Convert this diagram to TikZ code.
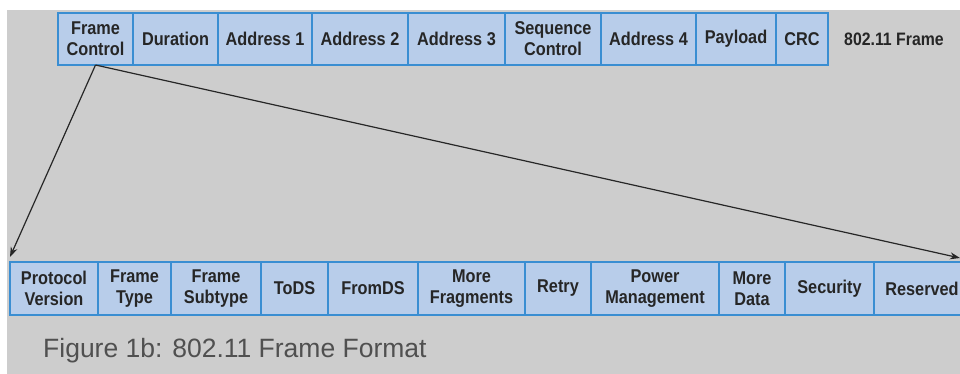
\documentclass[tikz,border=0pt]{standalone}
\usepackage{fontspec}
\setmainfont{Liberation Sans}
\newfontfamily\narrowfont{Liberation Sans}[FakeStretch=0.88]
\usetikzlibrary{positioning}
\usetikzlibrary{arrows.meta}
\definecolor{panelgray}{HTML}{CDCDCD}
\definecolor{fieldfill}{HTML}{B8CDEA}
\definecolor{fieldline}{HTML}{3A8ED2}
\definecolor{captiongray}{HTML}{505050}
\tikzset{	node distance=0pt,
	field/.style={
		draw=fieldline,
		fill=fieldfill,
		line width=2pt,
		outer sep=0pt,
		inner sep=0pt,
		minimum height=52pt,
		align=center,
		text=black!85,
		font=\narrowfont\bfseries\fontsize{18.5}{21}\selectfont},
	pointer/.style={
		draw=black!85,
		line width=1.2pt,
		-{Stealth[length=10pt,width=7pt]}}
}
\begin{document}
\begin{tikzpicture}[x=1pt,y=-1pt]
				\clip (0,0) rectangle (960,374);
				\fill[panelgray] (7,10) rectangle (960,374);
				% 802.11 frame
				\node[field, minimum width=75pt, anchor=north west] (fc) at (58,13) {Frame\\Control};
				\node[field, minimum width=85pt, right=of fc] (dur) {Duration};
				\node[field, minimum width=94pt, right=of dur] (addr1) {Address 1};
				\node[field, minimum width=96pt, right=of addr1] (addr2) {Address 2};
				\node[field, minimum width=97pt, right=of addr2] (addr3) {Address 3};
				\node[field, minimum width=96pt, right=of addr3] (seq) {Sequence\\Control};
				\node[field, minimum width=95pt, right=of seq] (addr4) {Address 4};
				\node[field, minimum width=80pt, right=of addr4] (pay) {Payload};
				\node[field, minimum width=52pt, right=of pay] (crc) {CRC};
				\node[right=16pt of crc, inner sep=0pt, text=black!85, font=\narrowfont\bfseries\fontsize{18}{21}\selectfont] (frametag) {802.11 Frame};
				% frame control bits
				\node[field, minimum width=88pt, minimum height=53pt, anchor=north west] (pv) at (10,262) {Protocol\\Version};
				\node[field, minimum width=73pt, minimum height=53pt, right=of pv] (ftype) {Frame\\Type};
				\node[field, minimum width=90pt, minimum height=53pt, right=of ftype] (fsub) {Frame\\Subtype};
				\node[field, minimum width=67pt, minimum height=53pt, right=of fsub] (tods) {ToDS};
				\node[field, minimum width=90pt, minimum height=53pt, right=of tods] (fromds) {FromDS};
				\node[field, minimum width=107pt, minimum height=53pt, right=of fromds] (morefrag) {More\\Fragments};
				\node[field, minimum width=66pt, minimum height=53pt, right=of morefrag] (retry) {Retry};
				\node[field, minimum width=128pt, minimum height=53pt, right=of retry] (pwr) {Power\\Management};
				\node[field, minimum width=66pt, minimum height=53pt, right=of pwr] (moredata) {More\\Data};
				\node[field, minimum width=89pt, minimum height=53pt, right=of moredata] (sec) {Security};
				\node[field, minimum width=96pt, minimum height=53pt, right=of sec] (res) {Reserved};
				% expansion arrows
				\coordinate (lefttip) at (10,257);
				\coordinate (righttip) at (960,258);
				\draw[pointer] (fc.south) -- (lefttip);
				\draw[pointer] (fc.south) -- (righttip);
				\node[anchor=base west, inner sep=0pt, text=captiongray, font=\fontsize{26.5}{30}\selectfont] (caption) at (43,357) {Figure 1b: 802.11 Frame Format};
			\end{tikzpicture}
\end{document}
